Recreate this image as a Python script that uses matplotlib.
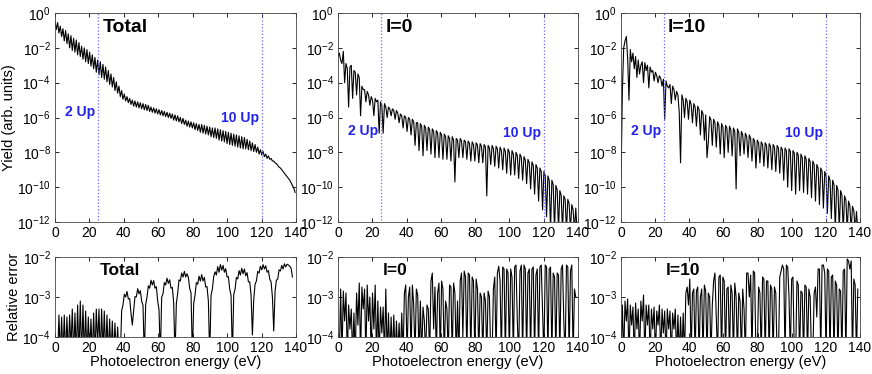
import numpy as np
import matplotlib
matplotlib.use('Agg')
import matplotlib.pyplot as plt
from matplotlib.ticker import LogLocator, LogFormatterMathtext, NullLocator

plt.rcParams['font.family'] = ['Liberation Sans', 'DejaVu Sans']
plt.rcParams['mathtext.fontset'] = 'custom'
plt.rcParams['mathtext.rm'] = 'Liberation Sans'

# samples every half photon energy (0.775 eV), values are log10 of the curve
step = 0.775

# yield spectra (log10)
total_yield = [
    -0.45, -0.95, -0.55, -1.15, -0.75, -1.35, -0.9, -1.6, -1.0, -1.75,
    -1.2, -2.0, -1.3, -2.15, -1.45, -2.25, -1.55, -2.4, -1.7, -2.5,
    -1.9, -2.65, -2.0, -2.8, -2.1, -2.9, -2.25, -3.05, -2.4, -3.2,
    -2.55, -3.4, -2.7, -3.55, -2.8, -3.7, -2.95, -3.8, -3.1, -3.95,
    -3.3, -4.1, -3.5, -4.25, -3.7, -4.45, -3.95, -4.6, -4.2, -4.8,
    -4.45, -4.95, -4.65, -5.05, -4.8, -5.15, -4.9, -5.25, -5.0, -5.35,
    -5.05, -5.4, -5.1, -5.45, -5.15, -5.5, -5.2, -5.55, -5.25, -5.6,
    -5.3, -5.65, -5.4, -5.7, -5.45, -5.75, -5.5, -5.8, -5.55, -5.85,
    -5.6, -5.9, -5.65, -5.95, -5.7, -6.0, -5.75, -6.05, -5.8, -6.15,
    -5.85, -6.2, -5.9, -6.25, -6.0, -6.35, -6.05, -6.4, -6.15, -6.5,
    -6.2, -6.55, -6.25, -6.6, -6.3, -6.7, -6.35, -6.75, -6.4, -6.85,
    -6.4, -6.9, -6.45, -6.95, -6.5, -7.0, -6.55, -7.1, -6.6, -7.15,
    -6.6, -7.2, -6.65, -7.3, -6.7, -7.35, -6.75, -7.4, -6.8, -7.5,
    -6.85, -7.55, -6.9, -7.6, -6.95, -7.65, -7.0, -7.7, -7.05, -7.75,
    -7.1, -7.8, -7.15, -7.8, -7.25, -7.85, -7.35, -7.9, -7.45, -7.95,
    -7.55, -8.0, -7.7, -8.1, -7.85, -8.15, -7.95, -8.25, -8.1, -8.35,
    -8.2, -8.4, -8.35, -8.5, -8.5, -8.6, -8.65, -8.75, -8.85, -8.9,
    -9.0, -9.1, -9.2, -9.3, -9.4, -9.5, -9.6, -9.75, -9.9, -10.05,
    -10.3,
]

l0_yield = [
    -2.5, -2.3, -2.7, -2.9, -2.2, -4.0, -2.9, -3.2, -5.4, -3.1,
    -3.0, -4.9, -3.3, -3.4, -4.7, -3.5, -3.7, -5.9, -4.2, -4.4,
    -4.4, -5.1, -4.5, -4.7, -5.3, -4.8, -5.0, -5.9, -4.9, -5.1,
    -5.0, -6.9, -5.1, -5.3, -6.9, -5.2, -5.4, -6.0, -5.4, -5.5,
    -5.9, -5.5, -5.6, -6.1, -5.6, -5.75, -6.3, -5.8, -5.9, -6.6,
    -5.9, -6.0, -6.8, -6.0, -6.1, -7.0, -6.1, -6.25, -7.6, -6.3,
    -6.3, -7.9, -6.35, -6.5, -8.2, -6.45, -6.6, -7.9, -6.55, -6.7,
    -8.1, -6.65, -6.8, -8.3, -6.75, -6.9, -8.3, -6.85, -7.0, -8.4,
    -6.95, -7.1, -8.4, -7.05, -7.2, -8.5, -7.1, -7.3, -9.7, -7.2,
    -7.3, -8.3, -7.2, -7.35, -8.3, -7.3, -7.4, -8.4, -7.35, -7.5,
    -8.5, -7.4, -7.55, -8.5, -7.45, -7.6, -8.6, -7.5, -7.65, -8.6,
    -7.55, -7.7, -10.5, -7.6, -7.75, -8.7, -7.6, -7.8, -8.8, -7.65,
    -7.8, -8.9, -7.7, -7.9, -9.0, -7.75, -7.95, -9.2, -7.8, -8.0,
    -9.3, -7.9, -8.1, -9.3, -8.0, -8.2, -9.5, -8.1, -8.3, -9.6,
    -8.25, -8.45, -9.8, -8.4, -8.6, -10.1, -8.55, -8.75, -10.4, -8.7,
    -8.9, -10.8, -8.9, -9.1, -11.3, -9.1, -9.35, -11.7, -9.35, -9.6,
    -12.5, -9.6, -9.85, -12.5, -9.9, -10.15, -12.5, -10.2, -10.45, -12.5,
    -10.5, -10.7, -12.5, -10.7, -10.95, -12.5, -11.0, -11.3, -12.5, -11.2,
    -12.5,
]

l10_yield = [
    -9.5, -4.5, -2.0, -1.6, -1.35, -2.6, -5.0, -2.1, -2.8, -2.3,
    -3.2, -2.5, -3.7, -2.7, -3.5, -3.0, -2.8, -4.0, -2.85, -3.3,
    -3.0, -4.3, -3.1, -3.4, -3.3, -3.9, -3.4, -3.6, -4.0, -3.6,
    -3.75, -4.2, -3.8, -6.1, -3.9, -4.2, -4.3, -4.1, -5.2, -4.2,
    -4.4, -5.0, -4.5, -4.7, -5.7, -8.6, -4.7, -5.0, -6.0, -4.9,
    -5.1, -6.1, -5.0, -5.25, -6.3, -5.2, -5.4, -6.5, -5.35, -5.55,
    -7.0, -5.6, -5.8, -7.3, -5.85, -8.3, -7.4, -5.95, -6.15, -7.6,
    -6.1, -6.3, -7.7, -6.25, -6.45, -8.1, -6.35, -6.55, -8.3, -6.45,
    -6.6, -8.0, -6.5, -6.7, -8.2, -6.6, -6.8, -10.1, -6.65, -6.85,
    -8.2, -6.8, -7.0, -8.1, -6.9, -7.1, -8.3, -7.0, -7.2, -8.5,
    -7.2, -7.35, -8.9, -7.3, -7.45, -8.6, -7.4, -7.55, -8.8, -7.45,
    -7.6, -8.9, -7.5, -7.65, -9.0, -7.55, -7.7, -9.1, -7.6, -7.75,
    -9.2, -7.7, -7.85, -9.6, -7.75, -7.9, -10.0, -7.8, -7.95, -10.2,
    -7.9, -8.05, -10.4, -8.0, -8.15, -10.2, -8.1, -8.3, -10.3, -8.2,
    -8.4, -10.4, -8.35, -8.55, -10.6, -8.5, -8.7, -10.8, -8.7, -8.9,
    -11.0, -8.9, -9.1, -11.2, -9.1, -9.35, -11.5, -9.35, -9.6, -11.8,
    -9.6, -9.85, -12.5, -9.9, -10.15, -12.5, -10.2, -10.45, -12.5, -10.5,
    -10.75, -12.5, -10.8, -11.05, -12.5, -11.1, -11.35, -12.5, -11.4, -12.5,
    -12.5,
]

# relative errors (log10)
total_err = [
    -4.5, -4.5, -4.5, -3.45, -4.5, -3.5, -4.5, -3.45, -4.5, -3.5,
    -4.5, -3.45, -4.3, -3.3, -4.5, -3.4, -4.5, -3.2, -4.5, -3.1,
    -4.5, -3.2, -4.5, -3.35, -4.5, -3.5, -4.4, -3.55, -4.5, -3.4,
    -4.5, -3.3, -4.2, -3.3, -4.5, -3.3, -4.4, -3.35, -4.5, -3.45,
    -4.5, -3.55, -4.5, -3.6, -4.5, -3.65, -4.5, -3.75, -4.5, -4.5,
    -3.34, -3.2, -2.93, -3.0, -2.86, -3.05, -3.04, -3.4, -3.7, -3.35,
    -2.99, -3.0, -2.79, -2.92, -2.84, -3.1, -3.21, -4.5, -3.19, -3.0,
    -2.72, -2.78, -2.58, -2.7, -2.59, -2.78, -2.74, -3.1, -3.31, -4.5,
    -3.0, -2.92, -2.64, -2.7, -2.53, -2.66, -2.57, -2.78, -2.76, -3.15,
    -4.5, -3.16, -2.9, -2.57, -2.6, -2.4, -2.5, -2.36, -2.5, -2.42,
    -2.51, -2.78, -2.9, -4.5, -3.16, -2.95, -2.64, -2.68, -2.48, -2.6,
    -2.44, -2.6, -2.51, -2.75, -2.74, -3.1, -4.5, -2.96, -2.8, -2.49,
    -2.37, -2.45, -2.24, -2.38, -2.19, -2.33, -2.21, -2.38, -2.29, -2.5,
    -2.49, -2.8, -2.96, -4.5, -2.94, -2.8, -2.51, -2.55, -2.34, -2.45,
    -2.28, -2.42, -2.3, -2.47, -2.39, -2.62, -2.62, -2.95, -3.95, -3.07,
    -2.68, -2.6, -2.36, -2.4, -2.23, -2.32, -2.19, -2.3, -2.22, -2.38,
    -2.34, -2.55, -2.62, -3.0, -3.85, -2.85, -2.58, -2.55, -2.32, -2.35,
    -2.21, -2.3, -2.17, -2.25, -2.18, -2.2, -2.23, -2.28, -2.5, np.nan,
    np.nan,
]

l0_err = [
    -4.5, -4.5, -2.8, -4.5, -2.85, -3.6, -2.9, -4.5, -3.2, -3.8,
    -3.3, -4.5, -3.4, -4.5, -2.9, -3.7, -2.65, -4.5, -2.75, -3.3,
    -2.8, -4.5, -2.7, -3.6, -3.0, -4.5, -2.9, -3.8, -2.7, -4.5,
    -3.1, -4.5, -3.25, -3.9, -3.25, -4.5, -2.8, -4.5, -3.4, -4.5,
    -3.5, -4.5, -3.45, -4.5, -3.6, -4.5, -3.65, -4.5, -3.4, -4.5,
    -2.9, -2.7, -4.5, -3.0, -2.75, -4.5, -2.7, -3.2, -4.5, -2.8,
    -2.95, -4.5, -3.1, -4.5, -3.25, -3.6, -4.5, -3.2, -3.3, -4.5,
    -2.6, -2.4, -3.8, -2.75, -4.5, -2.9, -2.65, -4.5, -2.6, -2.8,
    -4.5, -3.1, -3.3, -4.5, -2.7, -2.75, -4.5, -2.65, -2.9, -4.5,
    -3.1, -4.5, -2.6, -2.4, -4.0, -2.35, -2.5, -4.5, -2.4, -2.45,
    -4.5, -2.5, -2.6, -4.5, -2.55, -2.8, -4.5, -2.9, -3.0, -4.5,
    -2.9, -3.1, -4.5, -2.85, -3.0, -4.5, -4.5, -2.8, -2.5, -4.5,
    -2.4, -2.23, -2.6, -4.5, -2.25, -2.3, -4.5, -2.3, -2.4, -4.5,
    -2.3, -2.5, -4.5, -2.25, -2.2, -3.6, -4.5, -2.35, -2.2, -4.5,
    -2.2, -2.3, -4.5, -2.4, -2.3, -4.5, -2.3, -2.25, -4.5, -2.45,
    -2.3, -4.5, -2.25, -2.2, -3.4, -4.5, -2.2, -2.25, -4.5, -2.3,
    -2.25, -4.5, -2.4, -2.5, -4.5, -2.4, -2.45, -4.5, -2.3, -2.2,
    -3.6, -4.5, -2.2, -2.25, -4.5, -2.35, -2.2, -4.5, -2.8, -3.0,
    np.nan,
]

l10_err = [
    -4.5, -3.2, -4.5, -3.1, -3.6, -3.05, -4.5, -3.2, -3.7, -3.25,
    -4.5, -3.15, -3.8, -3.3, -4.5, -3.1, -3.6, -2.95, -4.5, -3.2,
    -3.7, -3.2, -4.5, -3.3, -3.8, -3.25, -4.5, -3.35, -3.7, -3.2,
    -4.5, -3.3, -3.9, -3.35, -4.5, -3.3, -3.8, -3.35, -4.5, -3.4,
    -3.8, -3.3, -4.5, -3.45, -4.5, -3.5, -4.5, -3.4, -4.5, -2.9,
    -2.75, -3.2, -2.55, -4.5, -2.9, -2.8, -4.5, -2.85, -2.75, -4.5,
    -3.0, -2.8, -4.5, -2.7, -2.85, -4.5, -2.9, -3.0, -4.5, -3.2,
    -2.6, -2.4, -3.5, -4.5, -2.5, -2.45, -4.5, -2.5, -2.6, -4.5,
    -2.8, -2.75, -4.5, -2.7, -2.9, -4.5, -2.65, -3.0, -4.5, -2.9,
    -3.1, -4.5, -2.8, -3.3, -4.5, -2.4, -2.4, -3.0, -2.45, -4.5,
    -2.35, -2.4, -4.5, -4.5, -2.75, -2.9, -4.5, -2.5, -2.55, -4.5,
    -2.6, -2.6, -4.5, -2.7, -2.8, -4.5, -2.75, -2.9, -4.5, -4.5,
    -2.5, -2.35, -2.2, -2.3, -4.5, -2.2, -2.25, -3.0, -4.5, -2.55,
    -2.5, -4.5, -4.5, -2.6, -2.7, -4.5, -2.85, -2.9, -4.5, -2.7,
    -2.75, -4.5, -2.8, -3.0, -4.5, -4.5, -2.9, -2.75, -3.5, -2.3,
    -2.3, -4.5, -2.2, -2.2, -2.4, -4.5, -2.3, -2.35, -4.5, -2.5,
    -2.45, -4.5, -2.6, -2.7, -4.5, -2.8, -2.85, -4.5, -2.35, -2.3,
    -4.5, -2.05, -2.1, -2.3, -2.1, -4.5, -2.55, -2.7, -4.5, -2.8,
    np.nan,
]

panel_names = ['Total', 'l=0', 'l=10']
yields = [total_yield, l0_yield, l10_yield]
errors = [total_err, l0_err, l10_err]

up_lines = [25, 120]          # 2 Up and 10 Up cutoffs
up_labels = ['2 Up', '10 Up']
up_label_y = [[2e-6, 1e-6], [1.6e-7, 1.3e-7], [1.6e-7, 1.3e-7]]

fig = plt.figure(figsize=(8.72, 3.74), dpi=100)

lefts = [0.063, 0.3876, 0.7122]
widths = [0.2764, 0.2752, 0.274]


def style_axis(ax):
    ax.set_xlim(0, 140)
    ax.set_xticks(range(0, 141, 20))
    ax.tick_params(direction='in', top=True, right=True, labelsize=10,
                   length=3, width=0.6, pad=3)
    ax.yaxis.set_minor_locator(NullLocator())
    for sp in ax.spines.values():
        sp.set_linewidth(0.6)
        sp.set_color('#444444')


for k in range(3):
    # top row: yield
    ax = fig.add_axes([lefts[k], 0.4064, widths[k], 0.5588])
    y = np.array(yields[k])
    x = np.arange(len(y)) * step
    ax.plot(x, 10.0 ** y, color='black', lw=0.8)
    ax.set_yscale('log')
    ax.set_ylim(1e-12, 1)
    ax.yaxis.set_major_locator(LogLocator(base=100))
    ax.yaxis.set_major_formatter(LogFormatterMathtext())
    style_axis(ax)
    for xv, lab, yl in zip(up_lines, up_labels, up_label_y[k]):
        ax.plot([xv, xv], [1.3e-12, 1], color='#6666ff', lw=0.9, ls=':')
        ax.text(xv - 1.5, yl, lab, color='#2222ee', fontsize=10,
                fontweight='bold', ha='right', va='center')
    ax.text(27.5, 10 ** -0.85, panel_names[k], fontsize=14, fontweight='bold',
            ha='left', va='center')
    if k == 0:
        ax.set_ylabel('Yield (arb. units)', fontsize=10.5, labelpad=1)

    # bottom row: relative error
    ax2 = fig.add_axes([lefts[k], 0.0989, widths[k], 0.2139])
    e = np.array(errors[k])
    xe = np.arange(len(e)) * step
    ax2.plot(xe, 10.0 ** e, color='black', lw=0.8)
    ax2.set_yscale('log')
    ax2.set_ylim(1e-4, 1e-2)
    ax2.yaxis.set_major_locator(LogLocator(base=10))
    ax2.yaxis.set_major_formatter(LogFormatterMathtext())
    style_axis(ax2)
    ax2.text(26, 10 ** -2.33, panel_names[k], fontsize=12.5, fontweight='bold',
             ha='left', va='center')
    ax2.set_xlabel('Photoelectron energy (eV)', fontsize=10.5, labelpad=0)
    if k == 0:
        ax2.set_ylabel('Relative error', fontsize=10.5, labelpad=1)

fig.savefig('out.png', dpi=100)
